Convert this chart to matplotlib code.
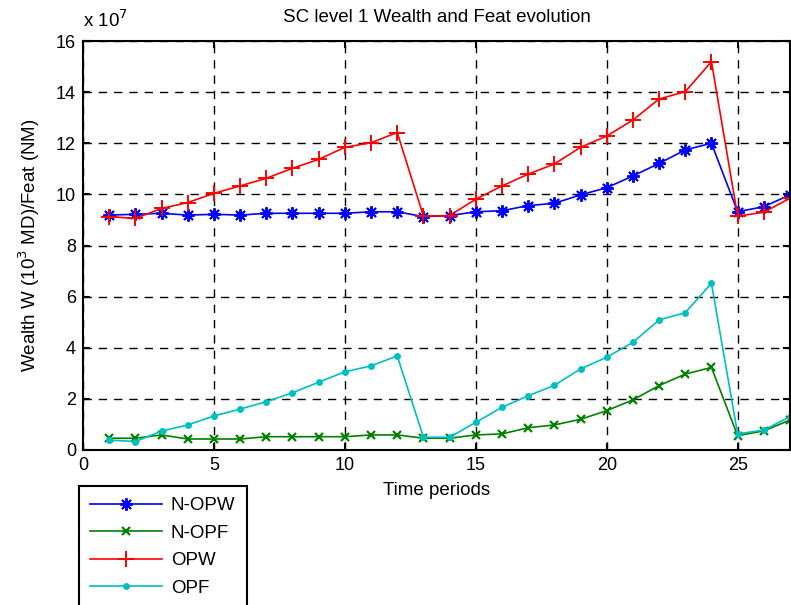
import matplotlib
matplotlib.use("Agg")
import matplotlib.pyplot as plt
from matplotlib.ticker import MultipleLocator

plt.rcParams['font.family'] = ['Liberation Sans', 'DejaVu Sans']

periods = list(range(1, 28))
# values in units of 1e7
n_opw = [9.19, 9.22, 9.26, 9.19, 9.22, 9.19, 9.26, 9.26, 9.26, 9.26, 9.32, 9.32, 9.13,
         9.17, 9.32, 9.36, 9.56, 9.65, 9.98, 10.26, 10.72, 11.21, 11.74, 12.0, 9.32, 9.52, 9.98]
n_opf = [0.46, 0.46, 0.59, 0.43, 0.43, 0.43, 0.52, 0.52, 0.52, 0.52, 0.59, 0.59, 0.46,
         0.46, 0.59, 0.63, 0.87, 0.98, 1.2, 1.54, 1.96, 2.52, 2.97, 3.23, 0.56, 0.75, 1.17]
opw = [9.13, 9.06, 9.45, 9.68, 10.04, 10.33, 10.63, 11.02, 11.37, 11.84, 12.02, 12.42, 9.15,
       9.17, 9.81, 10.33, 10.79, 11.19, 11.84, 12.28, 12.91, 13.73, 14.02, 15.19, 9.15, 9.30, 9.85]
opf = [0.39, 0.33, 0.74, 0.98, 1.33, 1.6, 1.89, 2.24, 2.65, 3.06, 3.29, 3.68, 0.5,
       0.5, 1.08, 1.67, 2.12, 2.53, 3.17, 3.63, 4.21, 5.09, 5.37, 6.52, 0.63, 0.78, 1.3]
labels = ['N-OPW', 'N-OPF', 'OPW', 'OPF']

W, H = 791, 605
fig = plt.figure(figsize=(W / 100, H / 100), dpi=100)
ax = fig.add_axes([83 / W, 1 - 450 / H, (790 - 83) / W, (450 - 41) / H])

fs = 13.5
lw = 1.2
h1, = ax.plot(periods, n_opw, color=(0, 0, 1), lw=lw, marker=(8, 2, 0), ms=9, mew=1.4, label=labels[0])
h2, = ax.plot(periods, n_opf, color=(0, 0.5, 0), lw=lw, marker='x', ms=6, mew=1.6, label=labels[1])
h3, = ax.plot(periods, opw, color=(1, 0, 0), lw=lw, marker='+', ms=11, mew=1.4, label=labels[2])
h4, = ax.plot(periods, opf, color=(0, 0.75, 0.75), lw=lw, marker='o', ms=5, mew=0, label=labels[3])

ax.set_xlim(0, 27)
ax.set_ylim(0, 16)
ax.xaxis.set_major_locator(MultipleLocator(5))
ax.yaxis.set_major_locator(MultipleLocator(2))
ax.grid(True, color='black', linestyle=(0, (6, 5)), linewidth=1.0)
ax.tick_params(direction='in', top=True, right=True, length=5, width=1.5, labelsize=13, pad=5)
for s in ax.spines.values():
    s.set_linewidth(1.5)

ax.set_title('SC level 1 Wealth and Feat evolution', fontsize=fs, pad=14)
ax.set_xlabel('Time periods', fontsize=fs, labelpad=6)
ax.set_ylabel('Wealth W (10$^3$ MD)/Feat (NM)', fontsize=fs, labelpad=10)
fig.text(83 / W, 1 - 27 / H, 'x 10$^7$', fontsize=fs, ha='left', va='baseline')

leg = fig.legend(handles=[h1, h2, h3, h4], loc='upper left',
                 bbox_to_anchor=(79 / W, 1 - 486 / H), fontsize=fs, frameon=True,
                 fancybox=False, edgecolor='black', framealpha=1, handlelength=3.8,
                 handletextpad=0.5, labelspacing=0.55, borderpad=0.6, borderaxespad=0)
leg.get_frame().set_linewidth(1.5)

fig.savefig('out.png', dpi=100)
